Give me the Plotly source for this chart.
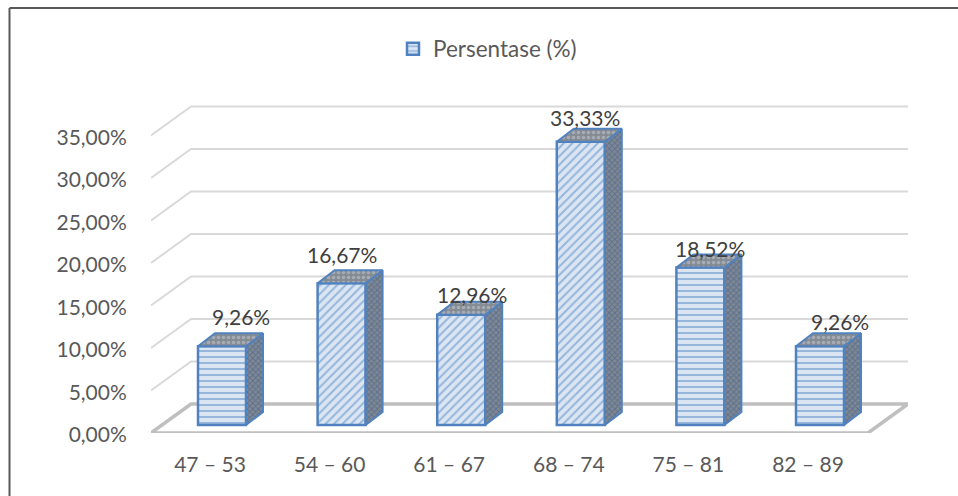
import plotly.graph_objects as go

# Chart data
categories = ["47 – 53", "54 – 60", "61 – 67", "68 – 74", "75 – 81", "82 – 89"]
percentages = [9.26, 16.67, 12.96, 33.33, 18.52, 9.26]
y_ticks = [0, 5, 10, 15, 20, 25, 30, 35]
front_hatch = ["-", "/", "/", "/", "-", "-"]
label_shift_x = [19, 0, 11, 4, 10, 20]
label_shift_y = [17, 16, 7, 11, 6, 12]

# Plot-area geometry: pixels per unit, used to express the pseudo-3D depth in axis units
PLOT_L, PLOT_R, PLOT_T, PLOT_B = 151, 908, 30, 433
WIDTH, HEIGHT = 958, 496
PX_PER_CAT = 119.6
PX_PER_PCT = 8.5
X0_PX = 210

WALL_DX = 40 / PX_PER_CAT
WALL_DY = 29 / PX_PER_PCT
BAR_W = 48 / PX_PER_CAT
BAR_SHIFT = 12 / PX_PER_CAT
BAR_BASE = 8 / PX_PER_PCT
BAR_DX = 17 / PX_PER_CAT
BAR_DY = 13 / PX_PER_PCT

x_min = (PLOT_L - X0_PX) / PX_PER_CAT
x_max = (PLOT_R - X0_PX) / PX_PER_CAT
y_max = (PLOT_B - PLOT_T) / PX_PER_PCT

BLUE = "#5082c0"
GRID = "#d9d9d9"
FLOOR = "#bfbfbf"
TEXT = "#595959"
LABEL = "#404040"
FONT = "Lato"


def paper_x(px):
    return (px - PLOT_L) / (PLOT_R - PLOT_L)


def paper_y(px):
    return (PLOT_B - px) / (PLOT_B - PLOT_T)


fig = go.Figure()

# Gridlines run up the side wall, then across the back wall
for v in y_ticks[1:]:
    fig.add_trace(go.Scatter(
        x=[x_min, x_min + WALL_DX, x_max],
        y=[v, v + WALL_DY, v + WALL_DY],
        mode="lines", line=dict(color=GRID, width=2),
        hoverinfo="skip", showlegend=False,
    ))

# Floor parallelogram
floor_right = x_max - WALL_DX
fig.add_trace(go.Scatter(
    x=[x_min, floor_right, x_max, x_min + WALL_DX, x_min],
    y=[0, 0, WALL_DY, WALL_DY, 0],
    mode="lines", line=dict(color=FLOOR, width=3.5),
    fill="toself", fillcolor="white",
    hoverinfo="skip", showlegend=False,
))

# Front faces of the columns, on an overlay axis pair so they sit above the floor
bar_x = [i + BAR_SHIFT for i in range(len(categories))]
fig.add_trace(go.Bar(
    x=bar_x, y=percentages, base=BAR_BASE, width=BAR_W,
    name="Persentase (%)", xaxis="x2", yaxis="y2",
    marker=dict(
        color="#dce6f2",
        line=dict(color=BLUE, width=2.5),
        pattern=dict(shape=front_hatch, fgcolor="#4f86c6", bgcolor="#dce6f2",
                     size=6, solidity=0.35),
    ),
    hoverinfo="skip",
))

# Side and top faces of the columns
for cx, v in zip(bar_x, percentages):
    left, right = cx - BAR_W / 2, cx + BAR_W / 2
    top = BAR_BASE + v
    fig.add_trace(go.Scatter(
        x=[right, right + BAR_DX, right + BAR_DX, right, right],
        y=[BAR_BASE, BAR_BASE + BAR_DY, top + BAR_DY, top, BAR_BASE],
        mode="lines", line=dict(color=BLUE, width=2), xaxis="x2", yaxis="y2",
        fill="toself", fillcolor="#7f8790",
        fillpattern=dict(shape="x", fgcolor="#38598a", bgcolor="#808893", size=4, solidity=0.45),
        hoverinfo="skip", showlegend=False,
    ))
    fig.add_trace(go.Scatter(
        x=[left, left + BAR_DX, right + BAR_DX, right, left],
        y=[top, top + BAR_DY, top + BAR_DY, top, top],
        mode="lines", line=dict(color=BLUE, width=2), xaxis="x2", yaxis="y2",
        fill="toself", fillcolor="#9aa0a8",
        fillpattern=dict(shape=".", fgcolor="#c9ced6", bgcolor="#858b93", size=5, solidity=0.4),
        hoverinfo="skip", showlegend=False,
    ))

# Value labels above each column
for cx, v, sx, sy in zip(bar_x, percentages, label_shift_x, label_shift_y):
    fig.add_annotation(
        x=cx, y=BAR_BASE + v + BAR_DY,
        text=f"{v:.2f}%".replace(".", ","),
        showarrow=False, xshift=sx, yshift=sy,
        font=dict(family=FONT, size=21, color=LABEL),
    )

# Chart frame: left and top edges only
frame = dict(type="line", xref="paper", yref="paper", line=dict(color="#595959", width=2))
fig.add_shape(x0=paper_x(9.5), x1=paper_x(9.5), y0=paper_y(HEIGHT), y1=paper_y(8), **frame)
fig.add_shape(x0=paper_x(9.5), x1=paper_x(WIDTH), y0=paper_y(8), y1=paper_y(8), **frame)

fig.update_layout(
    width=WIDTH, height=HEIGHT, autosize=False,
    margin=dict(l=PLOT_L, r=WIDTH - PLOT_R, t=PLOT_T, b=HEIGHT - PLOT_B),
    plot_bgcolor="white", paper_bgcolor="white",
    barmode="overlay",
    font=dict(family=FONT, size=21, color=TEXT),
    xaxis=dict(range=[x_min, x_max], tickmode="array",
               tickvals=list(range(len(categories))), ticktext=categories,
               showgrid=False, zeroline=False, showline=False,
               ticks="outside", ticklen=13, tickcolor="rgba(0,0,0,0)"),
    yaxis=dict(range=[0, y_max], tickmode="array", tickvals=y_ticks,
               ticktext=[f"{v:.2f}%".replace(".", ",") for v in y_ticks],
               showgrid=False, zeroline=False, showline=False,
               ticks="outside", ticklen=19, tickcolor="rgba(0,0,0,0)",
               ticklabelshift=2),
    xaxis2=dict(range=[x_min, x_max], overlaying="x", visible=False),
    yaxis2=dict(range=[0, y_max], overlaying="y", visible=False),
    legend=dict(orientation="h", x=paper_x(393), xanchor="left", y=paper_y(49), yanchor="middle",
                font=dict(family=FONT, size=22.5, color=TEXT), bgcolor="rgba(0,0,0,0)"),
)

fig.write_html("out.html")
